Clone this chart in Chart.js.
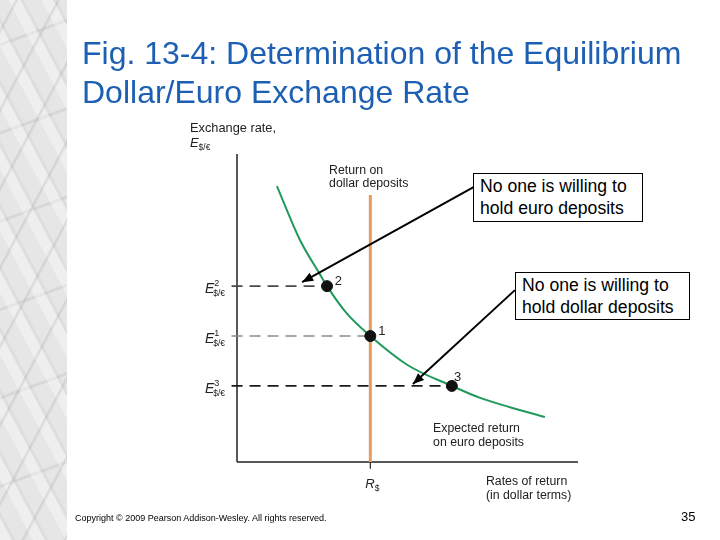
<!DOCTYPE html>
<html>
<head>
<meta charset="utf-8">
<script src="https://cdn.jsdelivr.net/npm/chart.js@4.4.1/dist/chart.umd.min.js"></script>
<style>
  html, body { margin:0; padding:0; background:#fff; }
  #wrap { position:relative; width:720px; height:540px; overflow:hidden; background:#fff; }
  #marble { position:absolute; left:0; top:0; width:67px; height:540px;
    background-color:#e6e6e6;
    background-image:
      repeating-linear-gradient(118deg, rgba(120,120,120,0) 0 13px, rgba(120,120,120,0.16) 14px 15px, rgba(120,120,120,0) 17px 37px),
      repeating-linear-gradient(62deg, rgba(255,255,255,0.35) 0 10px, rgba(150,150,150,0.10) 11px 13px, rgba(255,255,255,0) 14px 29px),
      repeating-linear-gradient(160deg, rgba(255,255,255,0) 0 40px, rgba(130,130,130,0.14) 41px 43px, rgba(255,255,255,0) 44px 83px);
  }
  canvas { position:absolute; left:0; top:0; }
  .title { position:absolute; left:82px; top:34px; font-family:"Liberation Sans", Arial, sans-serif; font-size:32px; line-height:39px; color:#1c5fb3; white-space:nowrap; }
  .box { position:absolute; border:1px solid #000; background:#fff; font-family:"Liberation Sans", Arial, sans-serif; font-size:17.6px; line-height:22px; color:#000; padding:1px 0 0 6px; box-sizing:border-box; white-space:nowrap; }
  .foot { position:absolute; left:75px; top:513px; font-family:"Liberation Sans", Arial, sans-serif; font-size:9px; color:#000; white-space:nowrap; }
  .page { position:absolute; left:681px; top:509px; font-family:"Liberation Sans", Arial, sans-serif; font-size:13px; color:#000; }
</style>
</head>
<body>
<div id="wrap">
  <div id="marble"></div>
  <canvas id="c" width="720" height="540"></canvas>
  <div class="title">Fig. 13-4: Determination of the Equilibrium<br>Dollar/Euro Exchange Rate</div>
  <div class="box" style="left:473px;top:173px;width:170px;height:49px;">No one is willing to<br>hold euro deposits</div>
  <div class="box" style="left:515px;top:272px;width:175px;height:48px;">No one is willing to<br>hold dollar deposits</div>
  <div class="foot">Copyright © 2009 Pearson Addison-Wesley. All rights reserved.</div>
  <div class="page">35</div>
</div>
<script>
// ---- data (abstract units: x = rate of return, y = exchange rate) ----
const euroReturnX = [11.7, 18.5, 24.3, 26.4, 32.0, 39.1, 50.0, 63.0, 71.3, 80.0, 90.3];
const euroReturnY = [89.6, 72.0, 61.0, 57.1, 48.5, 40.9, 31.5, 24.7, 20.8, 17.8, 14.6];
const dollarReturnX = 39.1;
const dollarReturnTop = 86.7;
const eqLabels = ['2', '1', '3'];
const eqX = [26.4, 39.1, 63.0];
const eqY = [57.1, 40.9, 24.7];
const dashColors = ['#4a4a4a', '#8a8a8a', '#1a1a1a'];
const arrowFrom = [[69.5, 89.3], [81.5, 55.8]];
const arrowTo   = [[19.1, 58.4], [51.6, 25.3]];
const axisMax = 100;

const pts = (xs, ys) => xs.map((x, i) => ({x, y: ys[i]}));
const line = (data, color, width, extra) => Object.assign({
  data, showLine:true, borderColor:color, backgroundColor:color, borderWidth:width,
  pointRadius:0, clip:false, tension:0
}, extra || {});

// pushed bottom-to-top; reversed afterwards because Chart.js paints dataset 0 last (on top)
const datasets = [];
// axes
datasets.push(line([{x:0,y:0},{x:0,y:axisMax}], '#222', 1.5));
datasets.push(line([{x:0,y:0},{x:axisMax,y:0}], '#222', 1.5));
// tick under R$
datasets.push(line([{x:dollarReturnX,y:0},{x:dollarReturnX,y:-2.2}], '#222', 1.2));
// dashed guide lines
eqX.forEach((x, i) => {
  datasets.push(line([{x:-1.6,y:eqY[i]},{x:x,y:eqY[i]}], dashColors[i], 1.6, {borderDash:[11,7]}));
});
// dollar deposits return (vertical)
datasets.push(line([{x:dollarReturnX,y:0},{x:dollarReturnX,y:dollarReturnTop}], '#e89c5c', 3));
// euro deposits expected return
datasets.push(line(pts(euroReturnX, euroReturnY), '#1f9a5a', 2, {cubicInterpolationMode:'monotone'}));
// arrows
arrowFrom.forEach((f, i) => {
  datasets.push(line([{x:f[0],y:f[1]},{x:arrowTo[i][0],y:arrowTo[i][1]}], '#000', 2));
});
// equilibrium points
datasets.push({data: pts(eqX, eqY), showLine:false, pointRadius:5.5, pointBackgroundColor:'#111',
  pointBorderColor:'#111', clip:false});
datasets.reverse();

const FONT = '"Liberation Sans", Arial, Helvetica, sans-serif';
const annot = {
  id:'annot',
  afterDatasetsDraw(chart) {
    const ctx = chart.ctx;
    const xs = chart.scales.x, ys = chart.scales.y;
    const px = v => xs.getPixelForValue(v), py = v => ys.getPixelForValue(v);
    ctx.save();
    // arrow heads
    arrowFrom.forEach((f, i) => {
      const x0 = px(f[0]), y0 = py(f[1]), x1 = px(arrowTo[i][0]), y1 = py(arrowTo[i][1]);
      const a = Math.atan2(y1 - y0, x1 - x0);
      ctx.fillStyle = '#000';
      ctx.beginPath();
      ctx.moveTo(x1, y1);
      ctx.lineTo(x1 - 11*Math.cos(a) + 4.5*Math.sin(a), y1 - 11*Math.sin(a) - 4.5*Math.cos(a));
      ctx.lineTo(x1 - 11*Math.cos(a) - 4.5*Math.sin(a), y1 - 11*Math.sin(a) + 4.5*Math.cos(a));
      ctx.closePath();
      ctx.fill();
    });
    ctx.fillStyle = '#222';
    ctx.textBaseline = 'alphabetic';
    ctx.textAlign = 'left';
    const txt = (s, x, y, size, italic) => {
      ctx.font = (italic ? 'italic ' : '') + size + 'px ' + FONT;
      ctx.fillText(s, x, y);
      return ctx.measureText(s).width;
    };
    // y axis title
    txt('Exchange rate,', px(-13.8), py(107.1), 12.8);
    let w = txt('E', px(-13.8), py(102.3), 13, true);
    txt('$/€', px(-13.8) + w, py(102.3) + 3, 8.5);
    // return on dollar deposits
    txt('Return on', px(27.0), py(93.5), 12.3);
    txt('dollar deposits', px(27.0), py(89.3), 12.3);
    // expected return on euro deposits
    txt('Expected return', px(57.5), py(9.7), 12.3);
    txt('on euro deposits', px(57.5), py(5.2), 12.3);
    // x axis title
    txt('Rates of return', px(73.0), py(-7.5), 12.3);
    txt('(in dollar terms)', px(73.0), py(-12.0), 12.3);
    // R$
    w = txt('R', px(dollarReturnX) - 5, py(-8.3), 13, true);
    txt('$', px(dollarReturnX) - 5 + w, py(-8.3) + 3, 8.5);
    // point labels
    const labOff = [[2.3, 0.3], [2.3, 0.3], [0.6, 1.6]];
    eqLabels.forEach((l, i) => {
      txt(l, px(eqX[i] + labOff[i][0]), py(eqY[i] + labOff[i][1]) , 13);
    });
    // y labels E^n_{$/€}
    eqLabels.forEach((l, i) => {
      const x = px(-9.4), y = py(eqY[i]) + 7;
      const ew = txt('E', x, y, 14, true);
      txt(l, x + ew, y - 7, 9);
      txt('$/€', x + ew - 1, y + 3, 8.5);
    });
    ctx.restore();
  }
};

new Chart(document.getElementById('c'), {
  type:'scatter',
  data:{ datasets },
  options:{
    responsive:false,
    animation:false,
    devicePixelRatio:1,
    layout:{ padding:{ left:237, right:142, top:154, bottom:78 } },
    plugins:{ legend:{display:false}, tooltip:{enabled:false} },
    scales:{
      x:{ type:'linear', min:0, max:axisMax, display:false },
      y:{ type:'linear', min:0, max:axisMax, display:false }
    },
    elements:{ line:{ borderCapStyle:'butt' } }
  },
  plugins:[annot]
});
</script>
</body>
</html>
